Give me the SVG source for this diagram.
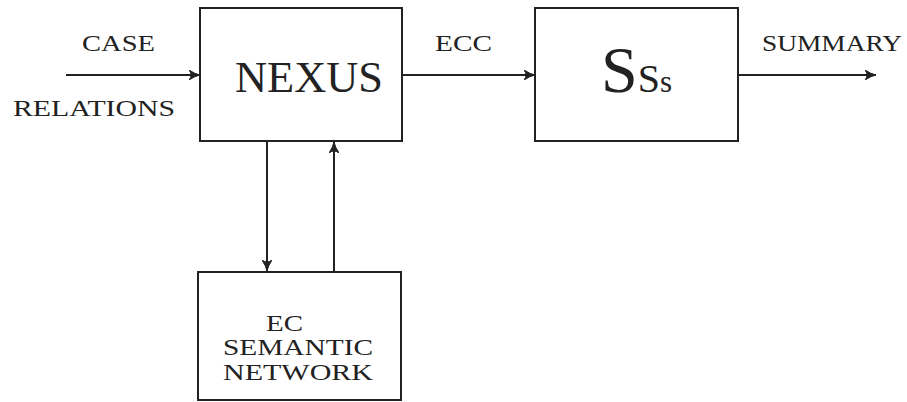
<svg xmlns="http://www.w3.org/2000/svg" width="907" height="402" viewBox="0 0 907 402">
<style>
.box{fill:none;stroke:#222;stroke-width:2}
.ln{fill:none;stroke:#222;stroke-width:2;marker-end:url(#ah)}
text{font-family:"Liberation Serif","DejaVu Serif",serif;fill:#222}
.lb{font-size:23px}
</style>
<defs>
<marker id="ah" viewBox="0 0 12 10" refX="11" refY="5" markerWidth="12" markerHeight="10" markerUnits="userSpaceOnUse" orient="auto">
<path d="M0,0 Q6,4 11,5 Q6,6 0,10 Q4,5 0,0 Z" fill="#222" stroke="#222" stroke-width="1"/>
</marker>
</defs>
<rect width="907" height="402" fill="#fff"/>
<g id="connectors">
<line class="ln" x1="66" y1="75" x2="200" y2="75"/>
<line class="ln" x1="402" y1="75" x2="535" y2="75"/>
<line class="ln" x1="738" y1="75" x2="876" y2="75"/>
<line class="ln" x1="267" y1="141" x2="267" y2="271"/>
<line class="ln" x1="334" y1="272" x2="334" y2="142"/>
<text class="lb" x="82" y="51" textLength="73" lengthAdjust="spacingAndGlyphs">CASE</text>
<text class="lb" x="13" y="116" textLength="162" lengthAdjust="spacingAndGlyphs">RELATIONS</text>
<text class="lb" x="435" y="51" textLength="57" lengthAdjust="spacingAndGlyphs">ECC</text>
<text class="lb" x="762" y="51" textLength="140" lengthAdjust="spacingAndGlyphs">SUMMARY</text>
</g>
<g id="nexus">
<rect class="box" x="200" y="8" width="202" height="133"/>
<text x="235" y="92" font-size="45" textLength="148" lengthAdjust="spacingAndGlyphs">NEXUS</text>
</g>
<g id="sss">
<rect class="box" x="535" y="8" width="203" height="133"/>
<text x="601" y="92"><tspan font-size="66">S</tspan><tspan font-size="40">S</tspan><tspan font-size="31">s</tspan></text>
</g>
<g id="ec-semantic-network">
<rect class="box" x="198" y="272" width="203" height="128"/>
<text class="lb" x="266" y="331" textLength="37" lengthAdjust="spacingAndGlyphs">EC</text>
<text class="lb" x="223" y="355" textLength="150" lengthAdjust="spacingAndGlyphs">SEMANTIC</text>
<text class="lb" x="223" y="380" textLength="150" lengthAdjust="spacingAndGlyphs">NETWORK</text>
</g>
</svg>
